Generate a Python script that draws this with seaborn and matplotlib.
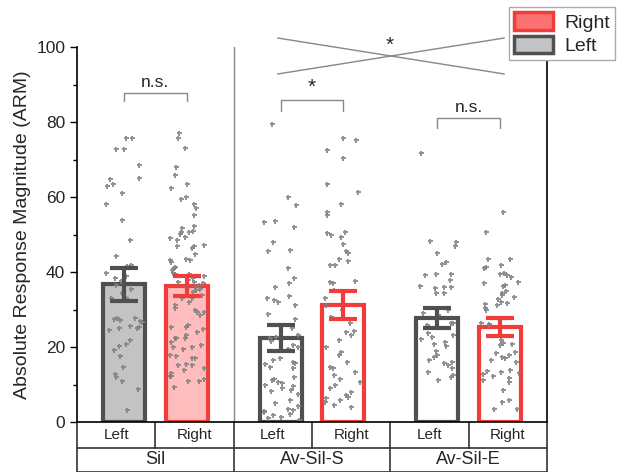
import numpy as np
import pandas as pd
import matplotlib
matplotlib.use("Agg")
import matplotlib.pyplot as plt
import matplotlib.transforms as mtransforms
from matplotlib.patches import Patch
import seaborn as sns

# ---------------------------------------------------------------
# data
# ---------------------------------------------------------------
groups = ["Sil", "Av-Sil-S", "Av-Sil-E"]
sides = ["Left", "Right", "Left", "Right", "Left", "Right"]
positions = [0, 1, 2.5, 3.5, 5, 6]
means = [36.7, 36.3, 22.4, 31.2, 27.7, 25.3]
errors = [4.5, 2.6, 3.5, 3.7, 2.7, 2.4]

sil_left = [75.8, 75.8, 72.7, 72.7, 68.5, 65.2, 64.7, 63.4, 62.9, 61.2, 58.1, 54.0,
            48.5, 44.4, 42.0, 41.5, 39.8, 39.0, 38.3, 37.7, 36.5, 35.5, 34.3, 33.2,
            33.1, 27.8, 27.8, 27.5, 27.3, 27.0, 26.8, 25.5, 25.4, 25.2, 25.0, 24.5,
            22.0, 20.7, 20.3, 19.1, 17.6, 14.8, 12.8, 12.0, 10.9, 8.7, 3.2]
sil_right = [77.0, 75.8, 73.0, 68.1, 66.0, 63.4, 62.5, 60.1, 59.6, 58.1, 57.0, 55.2,
             52.4, 51.8, 50.9, 50.6, 50.6, 50.1, 49.4, 49.0, 48.5, 47.2, 47.0, 47.0,
             46.3, 44.7, 43.6, 43.2, 43.2, 42.8, 41.4, 41.0, 40.5, 39.7, 39.4, 39.4,
             39.0, 38.3, 37.9, 37.4, 37.4, 37.0, 36.5, 36.1, 36.1, 35.6, 35.2, 34.8,
             33.9, 33.0, 33.0, 32.1, 31.2, 30.5, 29.9, 29.4, 29.4, 28.5, 25.9, 25.4,
             25.4, 24.8, 24.1, 23.2, 22.5, 22.3, 22.3, 21.4, 20.5, 20.1, 20.1, 19.6,
             18.0, 17.7, 17.0, 17.0, 15.6, 15.2, 15.2, 14.3, 13.9, 13.0, 12.4, 12.4,
             11.6, 10.9, 10.9, 9.4]
avs_left = [79.4, 60.1, 58.0, 53.6, 53.3, 52.1, 48.1, 45.9, 45.6, 41.2, 38.4, 37.0,
            36.1, 33.7, 33.2, 32.6, 32.1, 31.2, 28.7, 27.6, 25.0, 23.2, 22.7, 22.3,
            21.5, 20.5, 20.1, 19.6, 17.0, 16.5, 16.0, 15.8, 15.6, 14.7, 14.3, 12.0,
            11.5, 11.2, 10.8, 10.5, 10.0, 9.5, 9.0, 8.6, 8.2, 7.5, 6.0, 5.0, 4.4,
            3.6, 3.2, 3.0, 2.7, 2.2, 1.8, 1.4, 1.0, 0.6]
avs_right = [75.8, 75.2, 72.5, 70.5, 63.4, 61.4, 58.1, 56.0, 55.2, 50.8, 50.3, 49.9,
             49.4, 47.4, 45.6, 45.0, 43.6, 42.9, 41.9, 41.9, 37.6, 37.4, 37.2, 35.2,
             34.8, 33.2, 31.2, 29.9, 28.0, 26.5, 24.4, 24.0, 23.2, 21.9, 20.0, 18.6,
             17.9, 16.0, 14.8, 14.3, 13.4, 12.5, 11.6, 10.7, 9.9, 9.0, 8.1, 7.2, 6.8,
             6.3, 5.9, 5.4, 4.5, 4.1]
ave_left = [71.8, 48.4, 48.1, 46.9, 45.1, 42.7, 42.1, 39.6, 39.4, 39.3, 38.0, 36.3,
            36.1, 35.9, 35.7, 34.5, 34.3, 29.9, 29.0, 28.5, 26.5, 26.3, 25.9, 23.8,
            23.2, 22.8, 22.1, 21.4, 20.8, 20.3, 19.0, 17.9, 17.4, 16.5, 16.1, 15.8,
            15.2, 14.3, 13.4, 12.5, 12.1, 11.2]
ave_right = [56.1, 50.6, 43.6, 43.4, 41.9, 41.4, 41.0, 39.8, 39.5, 39.2, 38.8, 37.4,
             37.0, 36.5, 36.3, 35.0, 34.3, 33.9, 33.4, 32.7, 32.1, 31.8, 31.5, 31.2,
             30.3, 29.9, 26.5, 26.1, 25.9, 21.9, 21.2, 20.8, 20.5, 18.8, 18.3, 17.9,
             17.4, 17.0, 16.5, 16.1, 14.0, 13.7, 13.4, 13.1, 12.8, 12.3, 11.7, 11.2,
             10.8, 8.5, 5.9, 5.4, 3.6, 3.4]
points = [sil_left, sil_right, avs_left, avs_right, ave_left, ave_right]

# ---------------------------------------------------------------
# style
# ---------------------------------------------------------------
sns.set_style("ticks")
plt.rcParams["font.family"] = ["Liberation Sans", "DejaVu Sans"]

dark = "#505050"
red = "#f23c3c"
faces = ["#c3c3c3", "#ffbcbc", "white", "white", "white", "white"]
edges = [dark, red, dark, red, dark, red]

fig = plt.figure(figsize=(6.27, 4.72), dpi=100)
ax = fig.add_axes([77 / 627, 1 - 422 / 472, 470 / 627, 375 / 472])

bars = pd.DataFrame({"pos": positions, "mean": means})
sns.barplot(data=bars, x="pos", y="mean", native_scale=True, width=0.67,
            color="white", errorbar=None, ax=ax, zorder=1)
for patch, fc, ec in zip(ax.patches, faces, edges):
    patch.set_facecolor(fc)
    patch.set_edgecolor(ec)
    patch.set_linewidth(3)

pts = pd.DataFrame({
    "pos": np.concatenate([[p] * len(v) for p, v in zip(positions, points)]),
    "val": np.concatenate(points),
})
np.random.seed(3)
sns.stripplot(data=pts, x="pos", y="val", native_scale=True, jitter=0.3,
              color="#808080", marker="P", size=3.6, linewidth=0, alpha=0.85,
              ax=ax, zorder=2)

for p, m, e, c in zip(positions, means, errors, edges):
    ax.errorbar(p, m, yerr=e, color=c, elinewidth=3, capsize=10, capthick=3,
                zorder=4)

ax.set_xlim(-0.75, 6.75)
ax.set_ylim(0, 100)
ax.set_yticks(range(0, 101, 20))
ax.set_yticks(range(10, 100, 20), minor=True)
ax.set_xticks([])
ax.set_xlabel("")
ax.set_ylabel("Absolute Response Magnitude (ARM)", fontsize=14)
ax.tick_params(axis="y", which="major", labelsize=12.5, length=5, width=1, color="black")
ax.tick_params(axis="y", which="minor", length=3, width=1, color="black")
ax.spines["top"].set_visible(False)
for s in ["left", "right", "bottom"]:
    ax.spines[s].set_linewidth(1.2)
    ax.spines[s].set_color("black")

# separator between Sil and Av groups
ax.axvline(1.75, color="#888888", lw=1, zorder=0)

# significance markers
gray = "#888888"
def bracket(x1, x2, y, drop, label, size):
    ax.plot([x1, x1, x2, x2], [y - drop, y, y, y - drop], color=gray, lw=1)
    ax.text((x1 + x2) / 2, y + 0.8, label, ha="center", va="bottom", fontsize=size)

bracket(0, 1, 87.7, 2.2, "n.s.", 12.5)
bracket(2.5, 3.5, 85.9, 3.0, "*", 15)
bracket(5, 6, 81.1, 2.7, "n.s.", 12.5)
ax.plot([2.45, 6.07], [102.4, 92.8], color=gray, lw=1, clip_on=False)
ax.plot([2.45, 6.07], [92.8, 102.4], color=gray, lw=1, clip_on=False)
ax.text(4.24, 98.0, "*", ha="center", va="bottom", fontsize=15)

# category table under the axis
trans = mtransforms.blended_transform_factory(ax.transData, ax.transAxes)
r1, r2 = -26 / 375, -50 / 375
line_kw = dict(color="#333333", lw=1.2, transform=trans, clip_on=False)
ax.plot([-0.75, 6.75], [r1, r1], **line_kw)
ax.plot([-0.75, 6.75], [r2, r2], **line_kw)
for xb in [-0.75, 6.75, 1.75, 4.25]:
    ax.plot([xb, xb], [0, r2], **line_kw)
for xb in [0.5, 3.0, 5.5]:
    ax.plot([xb, xb], [0, r1], **line_kw)
cell_edges = [-0.75, 0.5, 1.75, 3.0, 4.25, 5.5, 6.75]
for i, s in enumerate(sides):
    ax.text((cell_edges[i] + cell_edges[i + 1]) / 2, r1 / 2, s, transform=trans,
            ha="center", va="center", fontsize=11)
for i, g in enumerate(groups):
    ax.text((cell_edges[2 * i] + cell_edges[2 * i + 2]) / 2, (r1 + r2) / 2, g,
            transform=trans, ha="center", va="center", fontsize=13)

handles = [Patch(facecolor="#fa7272", edgecolor=red, linewidth=2.5, label="Right"),
           Patch(facecolor="#c3c3c3", edgecolor=dark, linewidth=2.5, label="Left")]
leg = ax.legend(handles=handles, loc="lower left", bbox_to_anchor=(0.92, 0.966),
                borderaxespad=0, fontsize=14, handlelength=2.0, handleheight=1.0,
                fancybox=False, framealpha=1, edgecolor="#aaaaaa",
                borderpad=0.25, labelspacing=0.2, handletextpad=0.6)
leg.get_frame().set_linewidth(1)

fig.savefig("out.png", dpi=100)
